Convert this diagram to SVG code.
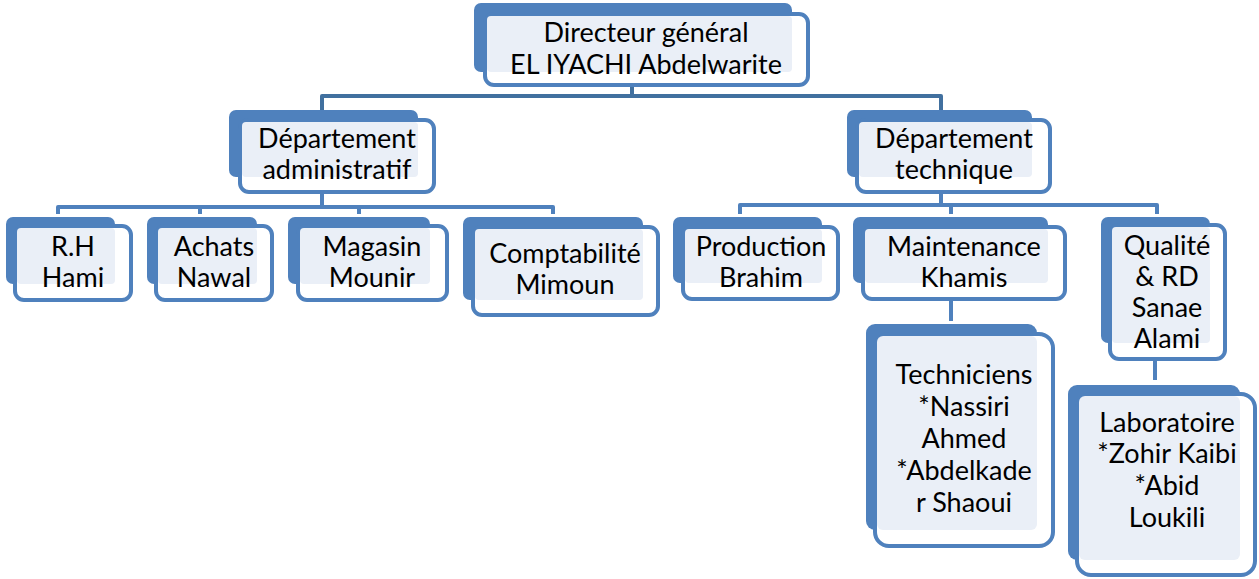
<svg xmlns="http://www.w3.org/2000/svg" width="1259" height="579" viewBox="0 0 1259 579">
<style>
.bk{fill:#4F81BD}
.fr{fill:#FFFFFF;stroke:#4F81BD;stroke-width:4}
.pl{fill:#EAEFF7}
.t{font-family:Lato,"Open Sans",sans-serif;font-size:27px;fill:#000;text-anchor:middle}
.c{fill:none;stroke:#4F81BD;stroke-width:4;stroke-linejoin:round}
.c0{fill:none;stroke:#41709F;stroke-width:4;stroke-linejoin:round}
</style>
<rect width="1259" height="579" fill="#FFFFFF"/>
<g id="connectors">
<path class="c0" d="M632,87 V96 M322,111 V96 H941 V111"/>
<path class="c" d="M322,194 V207 M58,214 V207 H553 V214 M200,207 V214 M359,207 V214"/>
<path class="c" d="M941,194 V205 M740,214 V205 H1157 V214 M951,205 V214"/>
<path class="c" d="M951,301 V321"/>
<path class="c" d="M1155,361 V380"/>
</g>
<g id="dg">
<rect class="bk" x="474" y="3" width="318" height="69" rx="7"/>
<rect class="fr" x="485" y="14" width="323" height="71" rx="9"/>
<rect class="pl" x="487" y="16" width="305" height="56" rx="4"/>
<text class="t" x="646" y="42">Directeur général</text>
<text class="t" x="646" y="74">EL IYACHI Abdelwarite</text>
</g>
<g id="dep-admin">
<rect class="bk" x="229" y="110" width="189" height="67" rx="7"/>
<rect class="fr" x="240" y="120" width="194" height="72" rx="9"/>
<rect class="pl" x="242" y="122" width="176" height="55" rx="4"/>
<text class="t" x="337" y="148">Département</text>
<text class="t" x="337" y="179">administratif</text>
</g>
<g id="dep-tech">
<rect class="bk" x="847" y="110" width="185" height="67" rx="7"/>
<rect class="fr" x="857" y="120" width="193" height="72" rx="9"/>
<rect class="pl" x="859" y="122" width="173" height="55" rx="4"/>
<text class="t" x="954" y="148">Département</text>
<text class="t" x="954" y="179">technique</text>
</g>
<g id="rh">
<rect class="bk" x="6" y="217" width="109" height="67" rx="7"/>
<rect class="fr" x="15" y="226" width="116" height="74" rx="9"/>
<rect class="pl" x="17" y="228" width="98" height="56" rx="4"/>
<text class="t" x="73" y="256">R.H</text>
<text class="t" x="73" y="287">Hami</text>
</g>
<g id="achats">
<rect class="bk" x="147" y="217" width="110" height="67" rx="7"/>
<rect class="fr" x="156" y="226" width="116" height="74" rx="9"/>
<rect class="pl" x="158" y="228" width="99" height="56" rx="4"/>
<text class="t" x="214" y="256">Achats</text>
<text class="t" x="214" y="287">Nawal</text>
</g>
<g id="magasin">
<rect class="bk" x="288" y="217" width="142" height="67" rx="7"/>
<rect class="fr" x="298" y="226" width="149" height="74" rx="9"/>
<rect class="pl" x="300" y="228" width="130" height="56" rx="4"/>
<text class="t" x="372" y="256">Magasin</text>
<text class="t" x="372" y="287">Mounir</text>
</g>
<g id="comptabilite">
<rect class="bk" x="463" y="217" width="180" height="83" rx="7"/>
<rect class="fr" x="473" y="227" width="185" height="88" rx="9"/>
<rect class="pl" x="475" y="229" width="168" height="71" rx="4"/>
<text class="t" x="565" y="263">Comptabilité</text>
<text class="t" x="565" y="294">Mimoun</text>
</g>
<g id="production">
<rect class="bk" x="673" y="217" width="149" height="66" rx="7"/>
<rect class="fr" x="683" y="227" width="155" height="72" rx="9"/>
<rect class="pl" x="685" y="229" width="137" height="54" rx="4"/>
<text class="t" x="761" y="256">Production</text>
<text class="t" x="761" y="287">Brahim</text>
</g>
<g id="maintenance">
<rect class="bk" x="853" y="217" width="195" height="66" rx="7"/>
<rect class="fr" x="863" y="227" width="202" height="72" rx="9"/>
<rect class="pl" x="865" y="229" width="183" height="54" rx="4"/>
<text class="t" x="964" y="256">Maintenance</text>
<text class="t" x="964" y="287">Khamis</text>
</g>
<g id="qualite">
<rect class="bk" x="1101" y="217" width="109" height="126" rx="7"/>
<rect class="fr" x="1110" y="225" width="115" height="134" rx="9"/>
<rect class="pl" x="1112" y="227" width="98" height="116" rx="4"/>
<text class="t" x="1167" y="255">Qualité</text>
<text class="t" x="1167" y="286">&amp; RD</text>
<text class="t" x="1167" y="317">Sanae</text>
<text class="t" x="1167" y="348">Alami</text>
</g>
<g id="techniciens">
<rect class="bk" x="866" y="324" width="171" height="206" rx="9"/>
<rect class="fr" x="875" y="334" width="178" height="212" rx="14"/>
<rect class="pl" x="877" y="336" width="160" height="194" rx="6"/>
<text class="t" x="964" y="384">Techniciens</text>
<text class="t" x="964" y="416">*Nassiri</text>
<text class="t" x="964" y="448">Ahmed</text>
<text class="t" x="964" y="480">*Abdelkade</text>
<text class="t" x="964" y="512">r Shaoui</text>
</g>
<g id="laboratoire">
<rect class="bk" x="1068" y="385" width="172" height="175" rx="9"/>
<rect class="fr" x="1077" y="394" width="178" height="181" rx="14"/>
<rect class="pl" x="1079" y="396" width="161" height="164" rx="6"/>
<text class="t" x="1167" y="432">Laboratoire</text>
<text class="t" x="1167" y="463">*Zohir Kaibi</text>
<text class="t" x="1167" y="495">*Abid</text>
<text class="t" x="1167" y="527">Loukili</text>
</g>
</svg>
